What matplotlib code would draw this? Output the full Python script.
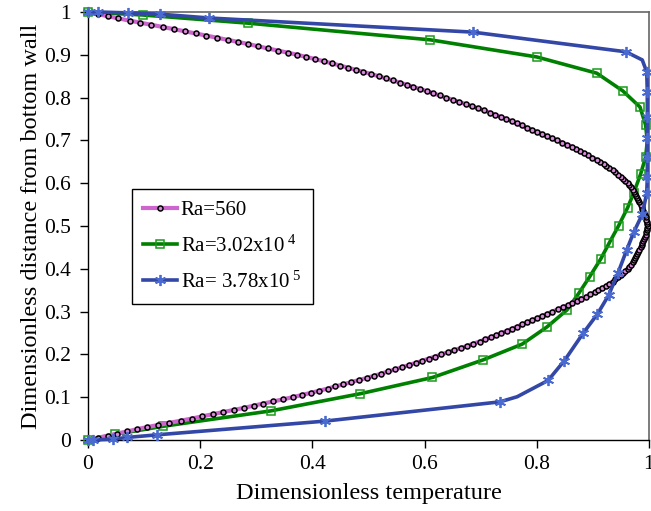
import matplotlib
matplotlib.use("Agg")
import matplotlib.pyplot as plt

plt.rcParams["font.family"] = "Liberation Serif"
plt.rcParams["mathtext.fontset"] = "custom"
plt.rcParams["mathtext.rm"] = "Liberation Serif"
plt.rcParams["mathtext.it"] = "Liberation Serif:italic"

# Ra = 560 : dimensionless distance (y) and temperature (T)
y_560 = [
    0.000, 0.005, 0.010, 0.015, 0.020, 0.025, 0.030, 0.035, 0.040, 0.045,
    0.050, 0.055, 0.060, 0.065, 0.070, 0.075, 0.080, 0.085, 0.090, 0.095,
    0.100, 0.105, 0.110, 0.115, 0.120, 0.125, 0.130, 0.135, 0.140, 0.145,
    0.150, 0.155, 0.160, 0.165, 0.170, 0.175, 0.180, 0.185, 0.190, 0.195,
    0.200, 0.205, 0.210, 0.215, 0.220, 0.225, 0.230, 0.235, 0.240, 0.245,
    0.250, 0.255, 0.260, 0.265, 0.270, 0.275, 0.280, 0.285, 0.290, 0.295,
    0.300, 0.305, 0.310, 0.315, 0.320, 0.325, 0.330, 0.335, 0.340, 0.345,
    0.350, 0.355, 0.360, 0.365, 0.370, 0.375, 0.380, 0.385, 0.390, 0.395,
    0.400, 0.405, 0.410, 0.415, 0.420, 0.425, 0.430, 0.435, 0.440, 0.445,
    0.450, 0.455, 0.460, 0.465, 0.470, 0.475, 0.480, 0.485, 0.490, 0.495,
    0.500,
    0.505, 0.510, 0.515, 0.520, 0.525, 0.530, 0.535, 0.540, 0.545, 0.550,
    0.555, 0.560, 0.565, 0.570, 0.575, 0.580, 0.585, 0.590, 0.595, 0.600,
    0.605, 0.610, 0.615, 0.620, 0.625, 0.630, 0.635, 0.640, 0.645, 0.650,
    0.655, 0.660, 0.665, 0.670, 0.675, 0.680, 0.685, 0.690, 0.695, 0.700,
    0.705, 0.710, 0.715, 0.720, 0.725, 0.730, 0.735, 0.740, 0.745, 0.750,
    0.755, 0.760, 0.765, 0.770, 0.775, 0.780, 0.785, 0.790, 0.795, 0.800,
    0.805, 0.810, 0.815, 0.820, 0.825, 0.830, 0.835, 0.840, 0.845, 0.850,
    0.855, 0.860, 0.865, 0.870, 0.875, 0.880, 0.885, 0.890, 0.895, 0.900,
    0.905, 0.910, 0.915, 0.920, 0.925, 0.930, 0.935, 0.940, 0.945, 0.950,
    0.955, 0.960, 0.965, 0.970, 0.975, 0.980, 0.985, 0.990, 0.995, 1.000,
]
t_560 = [
    0.000, 0.017, 0.035, 0.052, 0.070, 0.087, 0.105, 0.125, 0.145, 0.165,
    0.185, 0.203, 0.222, 0.241, 0.260, 0.278, 0.295, 0.312, 0.330, 0.348,
    0.365, 0.381, 0.397, 0.412, 0.427, 0.441, 0.455, 0.469, 0.483, 0.497,
    0.510, 0.523, 0.535, 0.548, 0.560, 0.572, 0.584, 0.596, 0.607, 0.619,
    0.630, 0.642, 0.653, 0.665, 0.676, 0.687, 0.698, 0.708, 0.718, 0.728,
    0.737, 0.747, 0.756, 0.765, 0.774, 0.783, 0.792, 0.801, 0.810, 0.819,
    0.828, 0.837, 0.846, 0.855, 0.863, 0.871, 0.879, 0.887, 0.895, 0.903,
    0.910, 0.917, 0.923, 0.929, 0.935, 0.940, 0.945, 0.950, 0.954, 0.958,
    0.962, 0.965, 0.968, 0.971, 0.973, 0.975, 0.977, 0.979, 0.981, 0.983,
    0.985, 0.987, 0.988, 0.990, 0.991, 0.993, 0.994, 0.995, 0.996, 0.997,
    0.998,
    0.997, 0.996, 0.995, 0.994, 0.993, 0.991, 0.990, 0.988, 0.987, 0.985,
    0.983, 0.981, 0.979, 0.977, 0.975, 0.973, 0.971, 0.968, 0.965, 0.962,
    0.958, 0.954, 0.950, 0.945, 0.940, 0.935, 0.929, 0.923, 0.919, 0.913,
    0.907, 0.899, 0.891, 0.884, 0.877, 0.870, 0.863, 0.854, 0.845, 0.836,
    0.827, 0.818, 0.809, 0.800, 0.791, 0.782, 0.773, 0.764, 0.755, 0.745,
    0.736, 0.726, 0.716, 0.706, 0.695, 0.684, 0.673, 0.661, 0.650, 0.638,
    0.627, 0.615, 0.604, 0.592, 0.580, 0.568, 0.556, 0.543, 0.531, 0.518,
    0.505, 0.491, 0.477, 0.463, 0.449, 0.435, 0.420, 0.405, 0.389, 0.373,
    0.356, 0.338, 0.320, 0.303, 0.286, 0.268, 0.249, 0.230, 0.211, 0.193,
    0.173, 0.153, 0.133, 0.113, 0.093, 0.074, 0.054, 0.036, 0.017, 0.000,
]

# Ra = 3.02x10^4 (mark = 1 where a square marker is drawn)
t_302e4 = [0.000, 0.048, 0.134, 0.326, 0.485, 0.614, 0.704, 0.774, 0.818, 0.854,
           0.875, 0.894, 0.914, 0.929, 0.946, 0.962, 0.973, 0.985, 0.994, 0.997,
           0.994, 0.984, 0.953, 0.907, 0.800, 0.610, 0.285, 0.098, 0.000]
y_302e4 = [0.000, 0.013, 0.032, 0.068, 0.108, 0.146, 0.187, 0.224, 0.264, 0.304,
           0.343, 0.381, 0.423, 0.460, 0.501, 0.543, 0.578, 0.621, 0.661, 0.698,
           0.736, 0.778, 0.816, 0.857, 0.895, 0.935, 0.974, 0.993, 1.000]
mark_302e4 = [1, 1, 1, 1, 1, 1, 1, 1, 1, 1,
              1, 1, 1, 1, 1, 1, 1, 1, 1, 0,
              1, 1, 1, 1, 1, 1, 1, 1, 1]

# Ra = 3.78x10^5 (mark = 1 where a star marker is drawn)
t_378e5 = [0.000, 0.008, 0.045, 0.070, 0.123, 0.422, 0.734, 0.765, 0.820, 0.849,
           0.883, 0.908, 0.928, 0.945, 0.960, 0.973, 0.988, 0.996, 0.997, 0.997,
           0.997, 0.997, 0.997, 0.996, 0.988, 0.959, 0.686, 0.216, 0.128, 0.071,
           0.018, 0.000]
y_378e5 = [0.000, 0.000, 0.002, 0.006, 0.012, 0.044, 0.089, 0.101, 0.139, 0.185,
           0.250, 0.294, 0.338, 0.391, 0.443, 0.486, 0.527, 0.577, 0.614, 0.661,
           0.706, 0.755, 0.813, 0.860, 0.888, 0.907, 0.953, 0.986, 0.995, 0.998,
           1.000, 1.000]
mark_378e5 = [1, 1, 1, 1, 1, 1, 1, 0, 1, 1,
              1, 1, 1, 1, 1, 1, 1, 1, 1, 1,
              1, 1, 1, 1, 0, 1, 1, 1, 1, 1,
              1, 1]

fig = plt.figure(figsize=(6.51, 5.11), dpi=100)
ax = fig.add_axes([0.1352, 0.139, 0.8617, 0.8375])

ax.plot(t_302e4, y_302e4, color="#008000", lw=2.6, marker="s", ms=5.5,
        mfc="none", mec="#1a9a1a", mew=1.1,
        markevery=[i for i, m in enumerate(mark_302e4) if m],
        label="Ra=3.02x10$^{\\ 4}$", zorder=3, clip_on=False)
ax.plot(t_560, y_560, color="#cc66cc", lw=3.0, marker="o", ms=3.6,
        mfc="#d98ad9", mec="black", mew=1.1,
        label="Ra=560", zorder=4, clip_on=False)
ax.plot(t_378e5, y_378e5, color="#3347a6", lw=2.6, marker=(6, 2, 0), ms=8,
        mec="#4a6ad0", mew=1.3,
        markevery=[i for i, m in enumerate(mark_378e5) if m],
        label="Ra= 3.78x10$^{\\ 5}$", zorder=5, clip_on=False)

ax.set_xlim(0, 1)
ax.set_ylim(0, 1)
ax.set_xticks([0, 0.2, 0.4, 0.6, 0.8, 1])
ax.set_xticklabels(["0", "0.2", "0.4", "0.6", "0.8", "1"])
ax.set_yticks([0, 0.1, 0.2, 0.3, 0.4, 0.5, 0.6, 0.7, 0.8, 0.9, 1])
ax.set_yticklabels(["0", "0.1", "0.2", "0.3", "0.4", "0.5", "0.6", "0.7", "0.8", "0.9", "1"])
ax.tick_params(direction="out", length=5.5, width=1, labelsize=15.5)
ax.tick_params(axis="x", pad=5)
ax.tick_params(axis="y", pad=7)
ax.spines["left"].set_linewidth(1)
ax.spines["bottom"].set_linewidth(1)
for s in ("top", "right"):
    ax.spines[s].set_color("#666666")
    ax.spines[s].set_linewidth(1.2)

ax.set_xlabel("Dimensionless temperature", fontsize=17.5, labelpad=7)
ax.set_ylabel("Dimensionless distance from bottom wall", fontsize=17.5, labelpad=1)

h, l = ax.get_legend_handles_labels()
order = [1, 0, 2]
leg = ax.legend([h[i] for i in order], [l[i] for i in order],
                loc="upper left", bbox_to_anchor=(0.078, 0.586), borderaxespad=0,
                fontsize=15, frameon=True, fancybox=False, framealpha=1,
                edgecolor="black", handlelength=1.6, handletextpad=0.2,
                borderpad=0.55, labelspacing=0.72)
leg.get_frame().set_linewidth(1)

fig.savefig("out.png", dpi=100)
